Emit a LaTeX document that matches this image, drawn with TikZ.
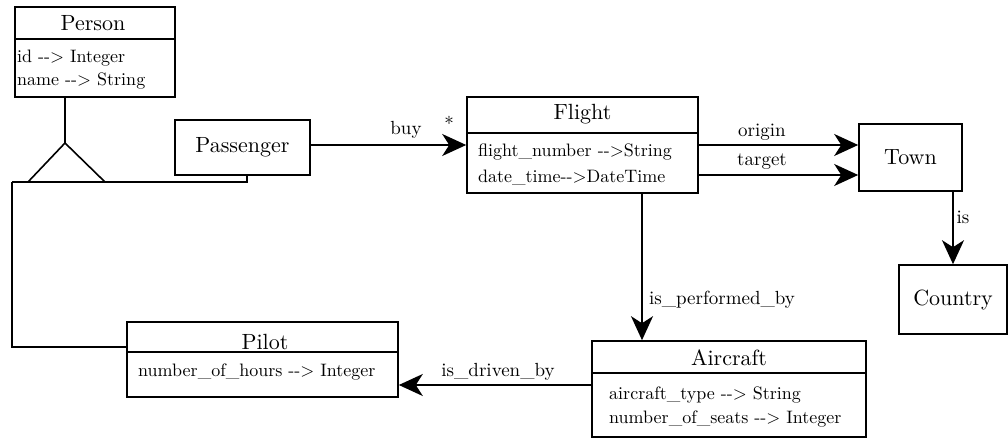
\documentclass[tikz,border=0pt]{standalone}
\usepackage{fontspec}
\setmainfont{lmroman10-regular.otf}
\usetikzlibrary{arrows.meta}

\newcommand{\umlarr}{-{}-{}>}

\tikzset{
    classbox/.style={draw, line width=1.6pt, rectangle, inner sep=0pt, font=\fontsize{22}{26}\selectfont},
    classname/.style={inner sep=0pt, font=\fontsize{22}{26}\selectfont},
    attr/.style={anchor=west, inner sep=0pt, font=\fontsize{18}{22}\selectfont},
    rolelabel/.style={inner sep=0pt, font=\fontsize{19}{22}\selectfont},
    assoc/.style={line width=1.6pt, -{Stealth[length=24pt, width=22pt, inset=7pt]}},
    link/.style={line width=1.6pt}
}

\begin{document}
\begin{tikzpicture}[x=1pt, y=-1pt]
    \useasboundingbox (0,0) rectangle (1008,438);

    % Classes
    \node[classbox, minimum width=160pt, minimum height=90pt] (person) at (95,52) {};
    \node[classbox, minimum width=135pt, minimum height=55pt] (passenger) at (242.5,147.5) {Passenger};
    \node[classbox, minimum width=231pt, minimum height=96pt] (flight) at (582.5,145) {};
    \node[classbox, minimum width=103pt, minimum height=67pt] (town) at (910.5,157.5) {Town};
    \node[classbox, minimum width=108pt, minimum height=69pt] (country) at (953,299.5) {Country};
    \node[classbox, minimum width=274pt, minimum height=96pt] (aircraft) at (729,389) {};
    \node[classbox, minimum width=271pt, minimum height=75pt] (pilot) at (262.5,359.5) {};

    % Compartments
    \draw[link] (person.west |- 0,39) -- (person.east |- 0,39);
    \draw[link] (flight.west |- 0,133) -- (flight.east |- 0,133);
    \draw[link] (aircraft.west |- 0,373) -- (aircraft.east |- 0,373);
    \draw[link] (pilot.west |- 0,352) -- (pilot.east |- 0,352);

    % Names and attributes
    \node[classname] (personname) at (93,23) {Person};
    \node[attr] (personid) at (17,58) {id \umlarr{} Integer};
    \node[attr] (personnm) at (17,81) {name \umlarr{} String};

    \node[classname] (flightname) at (582.5,114) {Flight};
    \node[attr] (flightnum) at (478,152) {flight\_number \umlarr String};
    \node[attr] (flightdate) at (478,177) {date\_time\umlarr DateTime};

    \node[classname] (aircraftname) at (729,358) {Aircraft};
    \node[attr] (aircrafttype) at (609,395) {aircraft\_type \umlarr{} String};
    \node[attr] (aircraftseats) at (609,419) {number\_of\_seats \umlarr{} Integer};

    \node[classname] (pilotname) at (265,342) {Pilot};
    \node[attr] (pilothours) at (138,372) {number\_of\_hours \umlarr{} Integer};

    % Associations
    \draw[assoc] (passenger.east |- flight.west) -- (flight.west);
    \draw[assoc] (flight.east) -- (flight.east -| town.west);
    \draw[assoc] ([yshift=-30pt]flight.east) -- ([yshift=-30pt]flight.east -| town.west);
    \draw[assoc] (country.north |- town.south) -- (country.north);
    \draw[assoc] ([xshift=59.5pt]flight.south) -- ([xshift=59.5pt]flight.south |- aircraft.north);
    \draw[assoc] ([yshift=4pt]aircraft.west) -- ([yshift=4pt]aircraft.west -| pilot.east);

    \node[rolelabel] (buy) at (406,130) {buy};
    \node[rolelabel] (many) at (449,123) {*};
    \node[rolelabel] (origin) at (762,132) {origin};
    \node[rolelabel] (target) at (762,162) {target};
    \node[rolelabel] (is) at (963,217) {is};
    \node[rolelabel] (performed) at (722,300) {is\_performed\_by};
    \node[rolelabel] (driven) at (498,372) {is\_driven\_by};

    % Generalization
    \coordinate (apex) at (65,143);
    \coordinate (genleft) at (12,182);
    \draw[link] (person.south -| apex) -- (apex);
    \draw[link] (apex) -- (28,182) -- (105,182) -- cycle;
    \draw[link] (genleft) -- (247,182) -- ([xshift=4.5pt]passenger.south);
    \draw[link] (genleft) |- ([yshift=12.5pt]pilot.west);
\end{tikzpicture}
\end{document}
